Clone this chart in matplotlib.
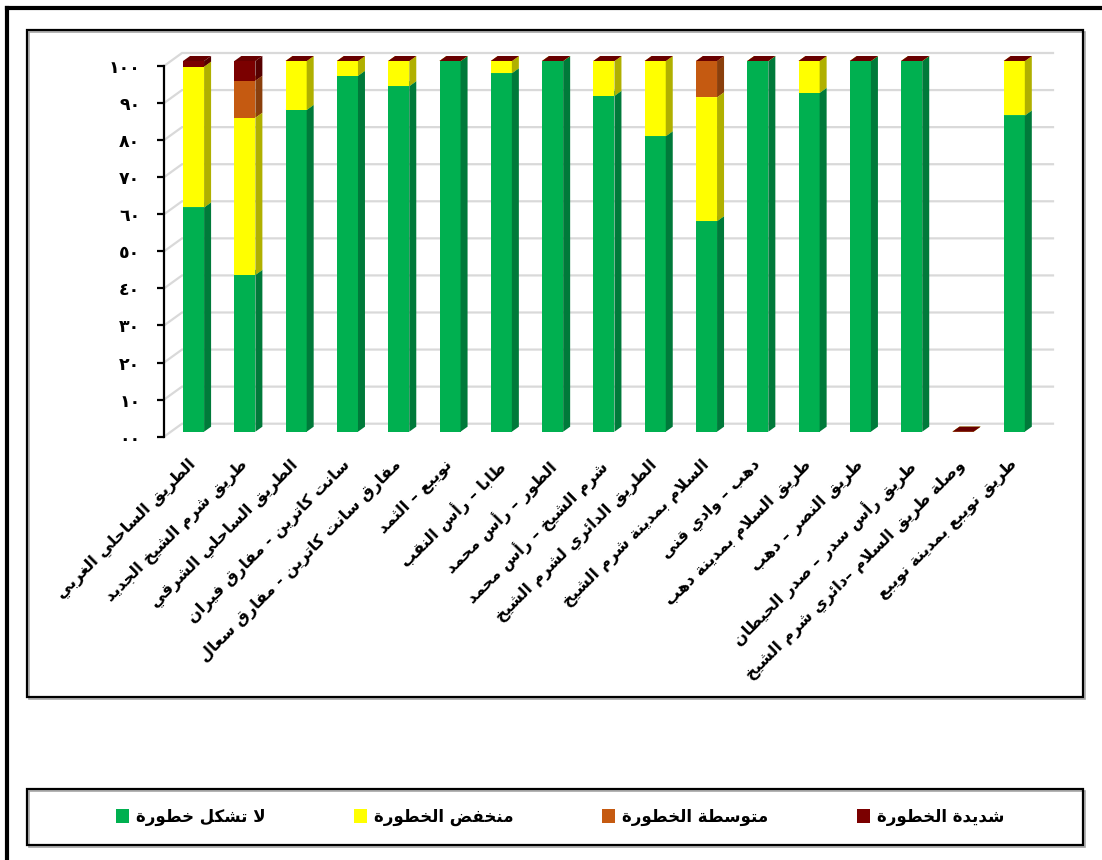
import numpy as np
import matplotlib.pyplot as plt
from matplotlib.patches import Polygon, Rectangle, Patch
from matplotlib.lines import Line2D

plt.rcParams['font.family'] = ['DejaVu Sans']

# ---- data (percent of road length per risk class) ----
categories = [
    'الطريق الساحلي الغربي',
    'طريق شرم الشيخ الجديد',
    'الطريق الساحلي الشرقي',
    'سانت كاترين - مفارق فيران',
    'مفارق سانت كاترين - مفارق سعال',
    'نويبع – الثمد',
    'طابا – رأس النقب',
    'الطور – رأس محمد',
    'شرم الشيخ – رأس محمد',
    'الطريق الدائري لشرم الشيخ',
    'السلام بمدينة شرم الشيخ',
    'دهب – وادي قنى',
    'طريق السلام بمدينة دهب',
    'طريق النصر – دهب',
    'طريق رأس سدر – صدر الحيطان',
    'وصلة طريق السلام –دائري شرم الشيخ',
    'طريق نويبع بمدينة نويبع',
]
no_risk = [60.5, 42.3, 86.8, 96.0, 93.2, 100, 96.7, 100, 90.6, 79.7, 56.8, 100, 91.4, 100, 100, 0, 85.3]
low_risk = [38.0, 42.4, 13.2, 4.0, 6.8, 0, 3.3, 0, 9.4, 20.3, 33.4, 0, 8.6, 0, 0, 0, 14.7]
medium_risk = [0, 10.0, 0, 0, 0, 0, 0, 0, 0, 0, 9.8, 0, 0, 0, 0, 0, 0]
high_risk = [1.5, 5.3, 0, 0, 0, 0, 0, 0, 0, 0, 0, 0, 0, 0, 0, 0, 0]
series_names = ['لا تشكل خطورة', 'منخفض الخطورة', 'متوسطة الخطورة', 'شديدة الخطورة']
yticks = list(range(0, 101, 10))
ytick_labels = ['٠٠', '١٠', '٢٠', '٣٠', '٤٠', '٥٠', '٦٠', '٧٠', '٨٠', '٩٠', '١٠٠']

front_colors = ['#00B050', '#FFFF00', '#C55A11', '#7B0000']
side_colors = ['#007A3A', '#B0B000', '#8A3F0C', '#560000']
top_colors = ['#1FBF62', '#FFFF40', '#D2692A', '#680000']

# ---- minimal Arabic shaping (presentation forms + RTL order) ----
DUAL = {'ئ': 0xFE89, 'ب': 0xFE8F, 'ت': 0xFE95, 'ث': 0xFE99, 'ج': 0xFE9D, 'ح': 0xFEA1,
        'خ': 0xFEA5, 'س': 0xFEB1, 'ش': 0xFEB5, 'ص': 0xFEB9, 'ض': 0xFEBD, 'ط': 0xFEC1,
        'ظ': 0xFEC5, 'ع': 0xFEC9, 'غ': 0xFECD, 'ف': 0xFED1, 'ق': 0xFED5, 'ك': 0xFED9,
        'ل': 0xFEDD, 'م': 0xFEE1, 'ن': 0xFEE5, 'ه': 0xFEE9, 'ي': 0xFEF1}
RIGHT = {'آ': 0xFE81, 'أ': 0xFE83, 'ؤ': 0xFE85, 'إ': 0xFE87, 'ا': 0xFE8D, 'ة': 0xFE93,
         'د': 0xFEA9, 'ذ': 0xFEAB, 'ر': 0xFEAD, 'ز': 0xFEAF, 'و': 0xFEED, 'ى': 0xFEEF}
LAM_ALEF = {'آ': 0xFEF5, 'أ': 0xFEF7, 'إ': 0xFEF9, 'ا': 0xFEFB}


def ar(text):
    out = []
    n = len(text)
    i = 0
    while i < n:
        c = text[i]
        prev = text[i - 1] if i > 0 else ''
        nxt = text[i + 1] if i + 1 < n else ''
        links_prev = prev in DUAL and (c in DUAL or c in RIGHT)
        if c == 'ل' and nxt in LAM_ALEF:
            out.append(chr(LAM_ALEF[nxt] + (1 if links_prev else 0)))
            i += 2
            continue
        if c in DUAL:
            links_next = nxt in DUAL or nxt in RIGHT
            form = 3 if (links_prev and links_next) else 1 if links_prev else 2 if links_next else 0
            out.append(chr(DUAL[c] + form))
        elif c in RIGHT:
            out.append(chr(RIGHT[c] + (1 if links_prev else 0)))
        else:
            out.append(c)
        i += 1
    return ''.join(reversed(out))


# ---- layout (pixels of a 1102x860 canvas) ----
W, H = 1102, 860
plot_left, plot_right = 171, 1042
plot_top, plot_bottom = 61, 431.7
xlim = (-0.44, 16.54)

fig = plt.figure(figsize=(W / 100, H / 100), dpi=100)
ax = fig.add_axes([plot_left / W, 1 - plot_bottom / H,
                   (plot_right - plot_left) / W, (plot_bottom - plot_top) / H])
ppx = (plot_right - plot_left) / (xlim[1] - xlim[0])
ppy = (plot_bottom - plot_top) / 100.0

# depth offsets (pixels) converted to data units
fx, fy = 7 / ppx, 5 / ppy       # front plane
bx, by = 11 / ppx, 8 / ppy      # back wall
dx, dy = 7 / ppx, 5 / ppy       # bar depth

# back wall + side wall grid
for v in yticks:
    ax.plot([xlim[0] - fx, xlim[0] + bx, xlim[1] + bx], [v - fy, v + by, v + by],
            color='#D9D9D9', lw=1.6, clip_on=False, zorder=1, solid_joinstyle='miter')

# stacked 3D-looking bars
x = np.arange(len(categories))
bottoms = np.zeros(len(categories))
for k, vals in enumerate([no_risk, low_risk, medium_risk, high_risk]):
    vals = np.array(vals, dtype=float)
    bars = ax.bar(x, vals, width=0.41, bottom=bottoms, color=front_colors[k],
                  linewidth=0, zorder=2 + k, clip_on=False)
    for rect in bars:
        x0, y0 = rect.get_x(), rect.get_y()
        w, h = rect.get_width(), rect.get_height()
        side = Polygon([(x0 + w, y0), (x0 + w + dx, y0 + dy), (x0 + w + dx, y0 + h + dy), (x0 + w, y0 + h)],
                       closed=True, fc=side_colors[k], ec='none', zorder=2 + k + 0.5, clip_on=False)
        top = Polygon([(x0, y0 + h), (x0 + dx, y0 + h + dy), (x0 + w + dx, y0 + h + dy), (x0 + w, y0 + h)],
                      closed=True, fc=top_colors[k], ec='none', zorder=2 + k + 0.6, clip_on=False)
        ax.add_patch(side)
        ax.add_patch(top)
    bottoms += vals

for i, cat in enumerate(categories):
    ax.annotate(ar(cat), xy=(i, 0), xytext=(-4, -18), textcoords='offset points',
                rotation=45, rotation_mode='anchor', ha='right', va='top',
                fontsize=11.5, fontweight='bold', annotation_clip=False)

ax.set_xlim(xlim)
ax.set_ylim(0, 100)
ax.axis('off')

# front plane axis with ticks
ax_f = fig.add_axes([(plot_left - 7) / W, 1 - (plot_bottom + 5) / H,
                     (plot_right - plot_left) / W, (plot_bottom - plot_top) / H])
ax_f.patch.set_visible(False)
for s in ['top', 'right', 'bottom']:
    ax_f.spines[s].set_visible(False)
ax_f.spines['left'].set_linewidth(1.6)
ax_f.set_ylim(0, 100)
ax_f.set_xticks([])
ax_f.set_yticks(yticks, labels=ytick_labels, fontweight='bold', fontsize=12.5)
ax_f.tick_params(axis='y', direction='out', length=5, width=1.6, pad=12)

# legend
handles = [Patch(facecolor=c) for c in front_colors]
fig.legend(handles, [ar(s) for s in series_names], loc='center',
           bbox_to_anchor=(560 / W, 1 - 817 / H), ncol=4, frameon=False,
           prop={'weight': 'bold', 'size': 12}, handlelength=0.8, handleheight=0.9,
           handletextpad=0.4, columnspacing=5.3)

# boxes
def box(x0, y0, x1, y1):
    fig.add_artist(Rectangle((x0 / W + 2 / W, 1 - y1 / H - 2 / H), (x1 - x0) / W, (y1 - y0) / H,
                             transform=fig.transFigure, fill=False, ec='#A6A6A6', lw=1.2))
    fig.add_artist(Rectangle((x0 / W, 1 - y1 / H), (x1 - x0) / W, (y1 - y0) / H,
                             transform=fig.transFigure, fill=False, ec='black', lw=1.6))

box(27, 30, 1083, 697)
box(27, 789, 1083, 845)

# outer frame (left and top edges)
fig.add_artist(Line2D([7 / W, 7 / W], [0, 1 - 8 / H], transform=fig.transFigure, color='black', lw=3))
fig.add_artist(Line2D([7 / W, 1], [1 - 8 / H, 1 - 8 / H], transform=fig.transFigure, color='black', lw=3))

fig.savefig('out.png', dpi=100)
plt.close(fig)
